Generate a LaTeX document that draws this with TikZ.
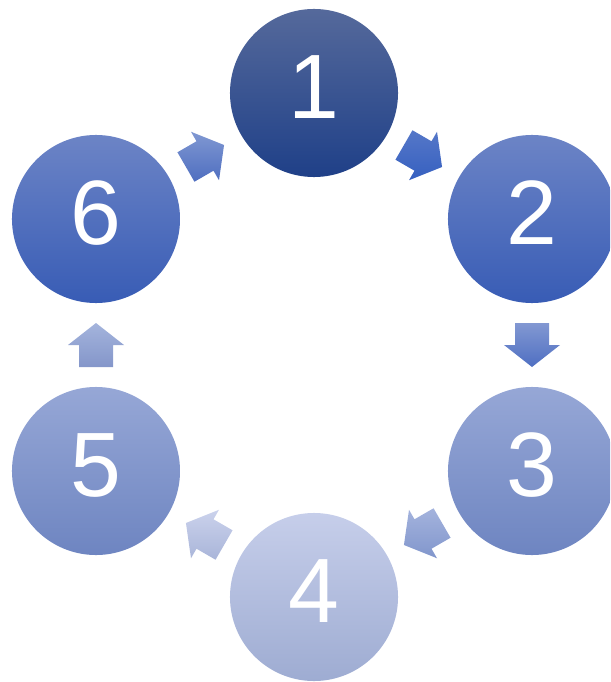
\documentclass[tikz,border=0pt]{standalone}
\usepackage{fontspec}
\setmainfont{Liberation Sans}
\usetikzlibrary{calc}

\definecolor{oneTop}{HTML}{55699B}
\definecolor{oneBot}{HTML}{1F4088}
\definecolor{twoTop}{HTML}{6C84C6}
\definecolor{twoBot}{HTML}{385CB5}
\definecolor{thrTop}{HTML}{96A7D6}
\definecolor{thrBot}{HTML}{6E85C1}
\definecolor{fouTop}{HTML}{C6CEEA}
\definecolor{fouBot}{HTML}{9EACD2}
% arrow colours
\definecolor{aOneTop}{HTML}{5577C8}
\definecolor{aOneBot}{HTML}{3660C0}
\definecolor{aTwoTop}{HTML}{8298D2}
\definecolor{aTwoBot}{HTML}{4F6FC2}
\definecolor{aThrTop}{HTML}{A4B3DD}
\definecolor{aThrBot}{HTML}{8196CC}
\definecolor{aFouTop}{HTML}{CBD2EC}
\definecolor{aFouBot}{HTML}{A9B5D9}
\definecolor{aFivTop}{HTML}{A4B4DC}
\definecolor{aFivBot}{HTML}{8496CA}
\definecolor{aSixTop}{HTML}{8098D2}
\definecolor{aSixBot}{HTML}{4E6EC0}

\tikzset{
  stepdot/.style={circle, minimum size=4.2cm, inner sep=0pt, text=white,
    font=\fontsize{65}{65}\selectfont, text depth=0.3cm}
}

\begin{document}
\begin{tikzpicture}[x=0.025cm, y=-0.025cm]
					\useasboundingbox (0,0) rectangle (610,682);
					\clip (0,0) rectangle (610,682);

					\node[stepdot, top color=oneTop, bottom color=oneBot] (c1) at (314,93) {1};
					\node[stepdot, top color=twoTop, bottom color=twoBot] (c2) at (532,219) {2};
					\node[stepdot, top color=thrTop, bottom color=thrBot] (c3) at (532,471) {3};
					\node[stepdot, top color=fouTop, bottom color=fouBot] (c4) at (314,597) {4};
					\node[stepdot, top color=thrTop, bottom color=thrBot] (c5) at (96,471) {5};
					\node[stepdot, top color=twoTop, bottom color=twoBot] (c6) at (96,219) {6};

					% block arrows half way between the steps
					\foreach \from/\to/\ang/\col in {c1/c2/-30/aOne, c2/c3/-90/aTwo, c3/c4/-150/aThr,
						c4/c5/150/aFou, c5/c6/90/aFiv, c6/c1/30/aSix}
						\shade[shift={($(\from)!0.5!(\to)$)}, rotate=\ang, top color=\col Top, bottom color=\col Bot]
							(-22,-17) -- (0,-17) -- (0,-28) -- (22,0) -- (0,28) -- (0,17) -- (-22,17) -- cycle;
				\end{tikzpicture}
\end{document}
